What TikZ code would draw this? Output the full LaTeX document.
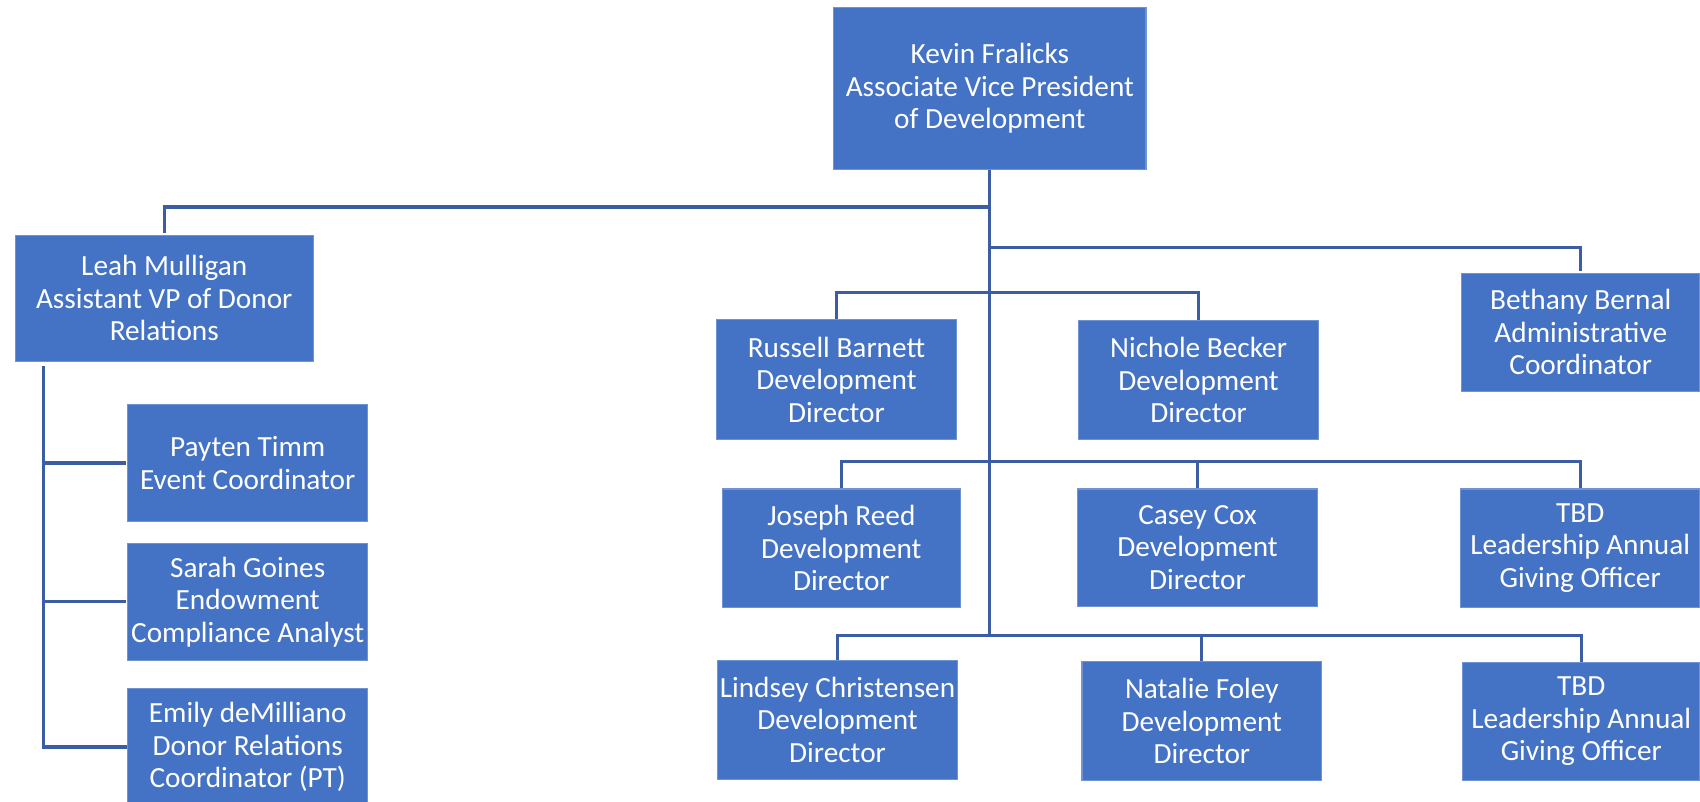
\documentclass[tikz,border=0pt]{standalone}
\usepackage{fontspec}
\setmainfont{Carlito}
\definecolor{boxblue}{HTML}{4472C4}
\definecolor{boxedge}{HTML}{6F93D3}
\definecolor{linkblue}{HTML}{3A5DA4}
\begin{document}
\begin{tikzpicture}[x=0.5pt,y=-0.5pt,
  orgbox/.style={draw=boxedge,line width=0.5pt,fill=boxblue,text=white,align=center,
    inner sep=1pt,font=\fontsize{13.5}{15}\selectfont},
  conn/.style={draw=linkblue,line width=1.5pt}]
\useasboundingbox (0,0) rectangle (1568,739.7);
\clip (0,0) rectangle (1568,739.7);
% rows
\coordinate (yL) at (0,191);
\coordinate (yB) at (0,228);
\coordinate (y1) at (0,270);
\coordinate (y2) at (0,426);
\coordinate (y3) at (0,586);
\coordinate (lspine) at (40,0);
% nodes
\node[orgbox,minimum width=144pt,minimum height=74.5pt] (kevin) at (913,81.5) {Kevin Fralicks\\Associate Vice President\\of Development};
\node[orgbox,minimum width=137.5pt,minimum height=58pt] (leah) at (151.5,275) {Leah Mulligan\\Assistant VP of Donor\\Relations};
\node[orgbox,minimum width=110.5pt,minimum height=54pt] (payten) at (228.5,427) {Payten Timm\\Event Coordinator};
\node[orgbox,minimum width=110.5pt,minimum height=54pt] (sarah) at (228.5,555) {Sarah Goines\\Endowment\\Compliance Analyst};
\node[orgbox,minimum width=110.5pt,minimum height=54pt] (emily) at (228.5,689) {Emily deMilliano\\Donor Relations\\Coordinator (PT)};
\node[orgbox,minimum width=110pt,minimum height=54.5pt] (beth) at (1458,306.5) {Bethany Bernal\\Administrative\\Coordinator};
\node[orgbox,minimum width=110.5pt,minimum height=55pt] (russell) at (771.5,350) {Russell Barnett\\Development\\Director};
\node[orgbox,minimum width=110.5pt,minimum height=54.5pt] (nichole) at (1105.5,350.5) {Nichole Becker\\Development\\Director};
\node[orgbox,minimum width=110pt,minimum height=54.5pt] (joseph) at (776,505.5) {Joseph Reed\\Development\\Director};
\node[orgbox,minimum width=110.5pt,minimum height=54pt] (casey) at (1104.5,505) {Casey Cox\\Development\\Director};
\node[orgbox,minimum width=110.5pt,minimum height=54.5pt] (tbd1) at (1457.5,505.5) {TBD\\Leadership Annual\\Giving Officer};
\node[orgbox,minimum width=110.5pt,minimum height=55pt] (lindsey) at (772.5,664) {Lindsey Christensen\\Development\\Director};
\node[orgbox,minimum width=110.5pt,minimum height=55pt] (natalie) at (1108.5,665) {Natalie Foley\\Development\\Director};
\node[orgbox,minimum width=109.5pt,minimum height=54.5pt] (tbd2) at (1458.5,665.5) {TBD\\Leadership Annual\\Giving Officer};
% connectors
\draw[conn] (kevin.south) -- (kevin.south |- y3);
\draw[conn] (kevin.south |- yL) -| ([yshift=1pt]leah.north);
\draw[conn] (kevin.south |- yB) -| ([yshift=1pt]beth.north);
\draw[conn] (kevin.south |- y1) -| (russell.north);
\draw[conn] (kevin.south |- y1) -| (nichole.north);
\draw[conn] (kevin.south |- y2) -| (joseph.north);
\draw[conn] (kevin.south |- y2) -| (casey.north);
\draw[conn] (kevin.south |- y2) -| (tbd1.north);
\draw[conn] (kevin.south |- y3) -| (lindsey.north);
\draw[conn] (kevin.south |- y3) -| (natalie.north);
\draw[conn] (kevin.south |- y3) -| (tbd2.north);
\draw[conn] ([yshift=-2pt]leah.south -| lspine) |- (emily.west);
\draw[conn] (lspine |- payten.west) -- ([xshift=-0.5pt]payten.west);
\draw[conn] (lspine |- sarah.west) -- ([xshift=-0.5pt]sarah.west);
\end{tikzpicture}
\end{document}
